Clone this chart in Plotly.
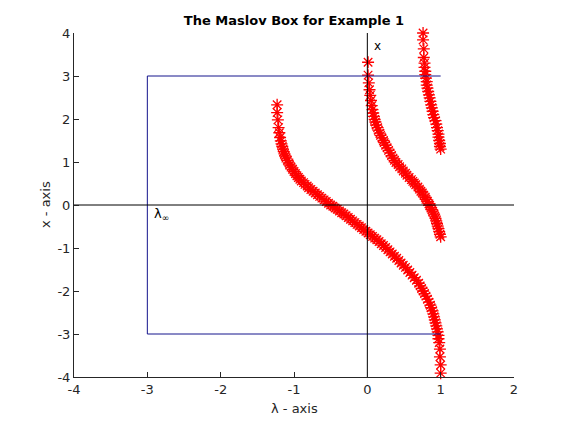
import plotly.graph_objects as go

# ---- data ----
main_lam = [-1.23, -1.23, -1.22, -1.21, -1.20, -1.19, -1.18, -1.17, -1.16, -1.15,
            -1.14, -1.13, -1.12, -1.11, -1.09, -1.07, -1.06, -1.04, -1.02, -1.00,
            -0.98, -0.96, -0.94, -0.92, -0.90, -0.87, -0.85, -0.82, -0.80, -0.77,
            -0.74, -0.71, -0.68, -0.65, -0.62, -0.59, -0.56, -0.53, -0.50, -0.47,
            -0.44, -0.41, -0.38, -0.35, -0.32, -0.29, -0.26, -0.23, -0.20, -0.17,
            -0.14, -0.11, -0.08, -0.05, -0.02, 0.01, 0.04, 0.07, 0.10, 0.13,
            0.16, 0.19, 0.22, 0.25, 0.28, 0.31, 0.34, 0.37, 0.40, 0.43,
            0.46, 0.49, 0.52, 0.55, 0.58, 0.61, 0.64, 0.67, 0.70, 0.72,
            0.74, 0.76, 0.78, 0.80, 0.82, 0.84, 0.86, 0.87, 0.89, 0.90,
            0.91, 0.92, 0.93, 0.94, 0.95, 0.96, 0.97, 0.97, 0.98, 0.99,
            0.99, 1.00, 1.00]
main_x = [2.33, 2.15, 1.98, 1.80, 1.68, 1.57, 1.49, 1.42, 1.36, 1.30,
          1.24, 1.19, 1.14, 1.09, 1.04, 0.98, 0.93, 0.88, 0.83, 0.78,
          0.73, 0.68, 0.64, 0.60, 0.56, 0.52, 0.48, 0.44, 0.40, 0.36,
          0.32, 0.28, 0.24, 0.20, 0.16, 0.12, 0.08, 0.04, 0.00, -0.03,
          -0.07, -0.10, -0.14, -0.18, -0.21, -0.25, -0.29, -0.33, -0.37, -0.41,
          -0.45, -0.49, -0.53, -0.57, -0.61, -0.65, -0.69, -0.73, -0.77, -0.81,
          -0.85, -0.90, -0.94, -0.99, -1.04, -1.09, -1.14, -1.19, -1.24, -1.29,
          -1.35, -1.40, -1.45, -1.51, -1.57, -1.63, -1.69, -1.75, -1.82, -1.88,
          -1.94, -2.00, -2.06, -2.12, -2.19, -2.26, -2.33, -2.39, -2.46, -2.53,
          -2.60, -2.67, -2.74, -2.81, -2.88, -2.95, -3.03, -3.11, -3.20, -3.35,
          -3.53, -3.72, -3.91]

b2_lam = [0.01, 0.01, 0.02, 0.03, 0.04, 0.05, 0.06, 0.07, 0.08, 0.09,
          0.10, 0.11, 0.12, 0.14, 0.15, 0.17, 0.18, 0.20, 0.22, 0.23,
          0.25, 0.27, 0.29, 0.31, 0.33, 0.35, 0.37, 0.39, 0.42, 0.44,
          0.47, 0.49, 0.52, 0.54, 0.57, 0.60, 0.62, 0.64, 0.66, 0.69,
          0.71, 0.73, 0.75, 0.77, 0.79, 0.80, 0.82, 0.84, 0.85, 0.87,
          0.88, 0.89, 0.91, 0.92, 0.93, 0.94, 0.95, 0.96, 0.97, 0.98,
          0.99, 1.00]
b2_x = [3.32, 3.02, 2.84, 2.68, 2.55, 2.43, 2.31, 2.22, 2.14, 2.06,
        1.99, 1.93, 1.86, 1.80, 1.74, 1.67, 1.62, 1.56, 1.50, 1.45,
        1.39, 1.33, 1.27, 1.21, 1.15, 1.09, 1.04, 0.99, 0.94, 0.89,
        0.84, 0.79, 0.74, 0.69, 0.64, 0.59, 0.55, 0.51, 0.47, 0.42,
        0.37, 0.32, 0.28, 0.23, 0.18, 0.13, 0.08, 0.03, -0.01, -0.06,
        -0.11, -0.16, -0.21, -0.26, -0.31, -0.37, -0.43, -0.49, -0.55, -0.62,
        -0.68, -0.74]

b3_lam = [0.76, 0.76, 0.77, 0.77, 0.78, 0.78, 0.79, 0.79, 0.80, 0.81,
          0.81, 0.82, 0.83, 0.84, 0.85, 0.86, 0.87, 0.88, 0.89, 0.90,
          0.91, 0.93, 0.94, 0.95, 0.96, 0.97, 0.97, 0.98, 0.99, 0.99,
          1.00]
b3_x = [4.00, 3.84, 3.63, 3.43, 3.30, 3.20, 3.11, 3.03, 2.95, 2.87,
        2.79, 2.72, 2.64, 2.56, 2.49, 2.41, 2.33, 2.26, 2.18, 2.10,
        2.03, 1.96, 1.88, 1.80, 1.73, 1.65, 1.58, 1.50, 1.43, 1.36,
        1.30]

box_lam = [1, -3, -3, 1]
box_x = [3, 3, -3, -3]

x_ticks = [-4, -3, -2, -1, 0, 1, 2]
y_ticks = [-4, -3, -2, -1, 0, 1, 2, 3, 4]

fig = go.Figure()
for lam, xv in [(main_lam, main_x), (b2_lam, b2_x), (b3_lam, b3_x)]:
    fig.add_trace(go.Scatter(
        x=lam, y=xv, mode='markers', showlegend=False, cliponaxis=False,
        marker=dict(symbol='asterisk-open', size=10, color='red',
                    line=dict(color='red', width=1.3))))

fig.add_trace(go.Scatter(x=box_lam, y=box_x, mode='lines', showlegend=False,
                         line=dict(color='#14148c', width=1)))
fig.add_trace(go.Scatter(x=[-4, 2], y=[0, 0], mode='lines', showlegend=False,
                         line=dict(color='black', width=1)))
fig.add_trace(go.Scatter(x=[0, 0], y=[-4, 4], mode='lines', showlegend=False,
                         line=dict(color='black', width=1)))

axis_common = dict(showgrid=False, zeroline=False, showline=True,
                   linecolor='#262626', linewidth=1, ticks='inside', ticklen=5,
                   tickcolor='#262626', mirror=False,
                   tickfont=dict(family='DejaVu Sans', size=13, color='#262626'))

# page has an 8px body margin, so the figure is 560x416 placed at (8, 8)
fig.update_layout(
    width=560, height=416,
    margin=dict(l=66, r=54, t=25, b=47),
    paper_bgcolor='white', plot_bgcolor='white',
    showlegend=False,
    title=dict(text='<b>The Maslov Box for Example 1</b>', x=(294 - 8) / 560, xanchor='center',
               y=1 - (20 - 8) / 416, yanchor='middle', yref='container',
               font=dict(family='DejaVu Sans', size=13, color='black')),
    xaxis=dict(range=[-4, 2], tickvals=x_ticks, ticktext=[str(v) for v in x_ticks],
               **axis_common),
    yaxis=dict(range=[-4, 4], tickvals=y_ticks, ticktext=[str(v) for v in y_ticks],
               **axis_common),
    annotations=[
        dict(text='λ - axis', xref='paper', yref='paper', x=0.5, y=-(408 - 377) / 344,
             xanchor='center', yanchor='middle', showarrow=False,
             font=dict(family='DejaVu Sans', size=13, color='#262626')),
        dict(text='x - axis', xref='paper', yref='paper', x=(45 - 74) / 440, y=0.5,
             textangle=-90, xanchor='center', yanchor='middle', showarrow=False,
             font=dict(family='DejaVu Sans', size=13, color='#262626')),
        dict(text='x', xref='x', yref='y', x=0.07, y=3.69, xanchor='left',
             yanchor='middle', showarrow=False,
             font=dict(family='DejaVu Sans', size=12, color='black')),
        dict(text='λ<sub>∞</sub>', xref='x', yref='y', x=-2.93, y=-0.22, xanchor='left',
             yanchor='middle', showarrow=False,
             font=dict(family='DejaVu Sans', size=13, color='black')),
    ],
)

fig.write_html('out.html')
